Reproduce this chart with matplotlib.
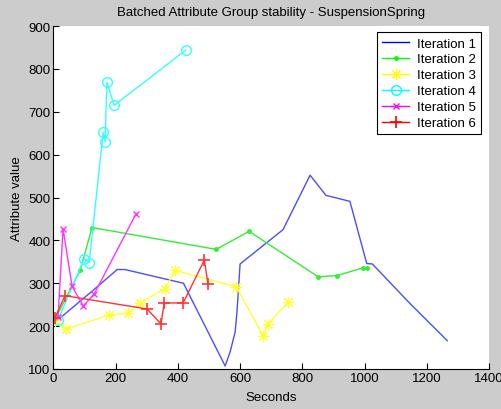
import matplotlib
matplotlib.use('Agg')
import matplotlib.pyplot as plt

plt.rcParams['font.family'] = ['Liberation Sans', 'DejaVu Sans']

# Data (seconds, attribute value)
it1_t = [20, 130, 205, 230, 418, 552, 568, 584, 590, 600, 738, 825, 876, 953, 1007, 1025, 1147, 1266]
it1_v = [218, 285, 332, 332, 300, 107, 140, 186, 233, 345, 425, 552, 505, 491, 346, 345, 252, 166]

it2_t = [8, 86, 124, 523, 629, 851, 912, 995, 1008]
it2_v = [220, 330, 430, 379, 421, 315, 318, 336, 336]

it3_t = [5, 40, 179, 240, 278, 358, 391, 587, 675, 690, 755]
it3_v = [212, 193, 226, 230, 254, 287, 330, 292, 177, 205, 257]

it4_t = [15, 99, 115, 160, 166, 172, 195, 426]
it4_v = [215, 357, 348, 652, 629, 769, 715, 844]

it5_t = [15, 31, 60, 96, 131, 265]
it5_v = [221, 427, 293, 247, 275, 461]

it6_t = [5, 37, 301, 346, 356, 417, 485, 497]
it6_v = [219, 271, 240, 205, 254, 254, 354, 298]

labels = ['Iteration 1', 'Iteration 2', 'Iteration 3', 'Iteration 4', 'Iteration 5', 'Iteration 6']

W, H = 501, 410
fig = plt.figure(figsize=(W / 100, H / 100), dpi=100, facecolor='#cccccc')
ax = fig.add_axes([53.4 / W, (H - 370) / H, 435.6 / W, 343 / H])
ax.set_facecolor('white')

ax.plot(it1_t, it1_v, color='#4d4dff', lw=1, label=labels[0])
ax.plot(it2_t, it2_v, color='#33ee33', lw=1, marker='.', ms=5, label=labels[1])
ax.plot(it3_t, it3_v, color='#ffff33', lw=1, marker=(8, 2, 0), ms=8, mew=0.8, label=labels[2])
ax.plot(it4_t, it4_v, color='#33ffff', lw=1, marker='o', ms=7, mfc='none', label=labels[3])
ax.plot(it5_t, it5_v, color='#ff33ff', lw=1, marker='x', ms=5, label=labels[4])
ax.plot(it6_t, it6_v, color='#ff3333', lw=1, marker='+', ms=8, mew=1.2, label=labels[5])

ax.set_xlim(0, 1400)
ax.set_ylim(100, 900)
ax.set_xticks(range(0, 1401, 200))
ax.set_yticks(range(100, 901, 100))
ax.tick_params(direction='in', length=4, labelsize=9.5, colors='black', pad=2)
for s in ['top', 'right']:
    ax.spines[s].set_visible(False)

ax.set_title('Batched Attribute Group stability - SuspensionSpring', fontsize=9.5, pad=8)
ax.set_xlabel('Seconds', fontsize=9.5, labelpad=5)
ax.set_ylabel('Attribute value', fontsize=9.5, labelpad=4)

leg = ax.legend(loc='upper right', bbox_to_anchor=((481 - 53.4) / 435.6, (370 - 33) / 343),
                borderaxespad=0, fancybox=False, edgecolor='black', framealpha=1,
                fontsize=9.5, handlelength=2.0, handletextpad=0.6, labelspacing=0.28)
leg.get_frame().set_linewidth(0.8)
# legend lines use the pure colours
for h, c in zip(leg.get_lines(), ['blue', '#00ff00', 'yellow', 'cyan', 'magenta', 'red']):
    h.set_color(c)

fig.savefig('out.png', dpi=100, facecolor=fig.get_facecolor())
